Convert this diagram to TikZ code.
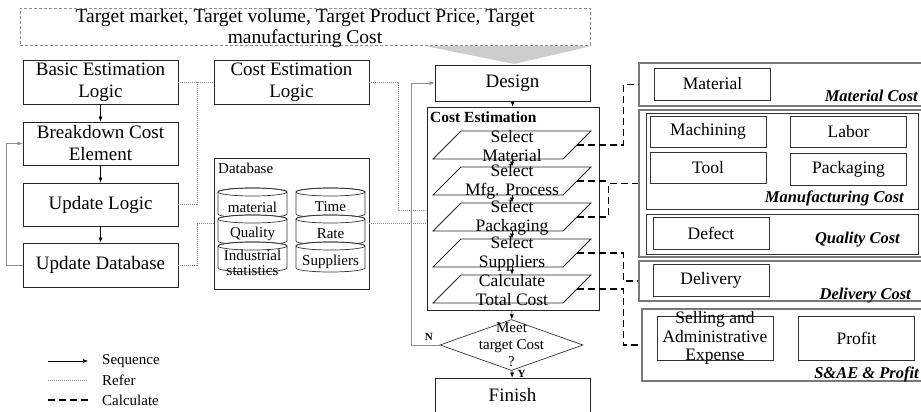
\documentclass[tikz,border=0pt]{standalone}
\usepackage{fontspec}
\setmainfont{Liberation Serif}
\usetikzlibrary{shapes.geometric, arrows.meta, positioning}
\definecolor{refer_gray}{RGB}{140,140,140}
\definecolor{frame_gray}{RGB}{120,120,120}
\definecolor{wedge_gray}{RGB}{205,205,205}

\tikzset{
    drum/.pic={
        \path[draw=black!80, fill=white, line width=0.7pt] (-34.5,-11) -- (-34.5,11)
            arc[start angle=180, end angle=0, x radius=34.5, y radius=4]
            -- (34.5,-11) arc[start angle=0, end angle=-180, x radius=34.5, y radius=4] -- cycle;
        \draw[black!80, line width=0.7pt] (0,-11) ellipse[x radius=34.5, y radius=4];
    }
}

\begin{document}
\begin{tikzpicture}[x=1pt,y=-1pt,
    box/.style={draw=black!85, line width=0.8pt, inner sep=0pt, minimum width=155, align=center, font=\fontsize{19}{22}\selectfont},
    item/.style={draw=black!80, line width=0.8pt, inner sep=0pt, minimum width=116, minimum height=32, font=\fontsize{17.5}{19}\selectfont},
    group/.style={draw=frame_gray, line width=1.1pt, inner sep=0pt},
    grouptitle/.style={anchor=east, inner sep=0pt, font=\fontsize{16.5}{18}\selectfont\bfseries\itshape},
    para/.style={rectangle, xslant=1, draw=black!85, line width=0.8pt, inner sep=0pt, minimum width=130, minimum height=28},
    paratext/.style={align=center, inner sep=0pt, font=\fontsize{17.5}{18.5}\selectfont},
    dbtext/.style={align=center, inner sep=0pt, font=\fontsize{15}{15}\selectfont},
    smalltext/.style={inner sep=0pt, font=\fontsize{15}{17}\selectfont},
    seq/.style={-{Latex[length=5pt,width=4pt]}, line width=0.6pt},
    refer/.style={draw=refer_gray, line width=0.6pt, dash pattern=on 1pt off 1pt},
    calc/.style={line width=1.2pt, dash pattern=on 7pt off 4pt},
    back/.style={-{Latex[length=5pt,width=4pt]}, draw=refer_gray, line width=0.8pt}]
    \useasboundingbox (0,0) rectangle (921,412);

    % Targets
    \node[draw=refer_gray, line width=0.7pt, dash pattern=on 3pt off 2pt, minimum width=570, minimum height=37, inner sep=0pt] (target) at (305,26.5) {};
    \node[align=center, inner sep=0pt, font=\fontsize{19.5}{21}\selectfont] (targettext) at (305,28.5) {Target market, Target volume, Target Product Price, Target\\manufacturing Cost};
    \fill[wedge_gray] (425,46) -- (592,46) -- (514,64) -- cycle;

    % Logic column
    \node[box, minimum height=44] (basic) at (100.5,82) {Basic Estimation\\Logic};
    \node[box, minimum height=43] (breakdown) at (100.5,143.5) {Breakdown Cost\\Element};
    \node[box, minimum height=43] (updlogic) at (100.5,204.5) {Update Logic};
    \node[box, minimum height=44] (upddb) at (100.5,265) {Update Database};
    \node[box, minimum height=44] (celogic) at (291.5,82) {Cost Estimation\\Logic};

    % Database
    \node[box, minimum height=131] (database) at (291.5,223.5) {};
    \node[smalltext, anchor=west] (dblabel) at (218,168) {Database};
    \pic (dbmat) at (252.5,203) {drum};
    \pic (dbqual) at (252.5,230) {drum};
    \pic (dbind) at (252.5,257) {drum};
    \pic (dbtime) at (330.5,203) {drum};
    \pic (dbrate) at (330.5,230) {drum};
    \pic (dbsup) at (330.5,257) {drum};
    \node[dbtext] (tmat) at (252.5,207) {material};
    \node[dbtext] (tqual) at (252.5,234) {Quality};
    \node[dbtext] (tind) at (252.5,263) {Industrial\\statistics};
    \node[dbtext] (ttime) at (330.5,207) {Time};
    \node[dbtext] (trate) at (330.5,234) {Rate};
    \node[dbtext] (tsup) at (330.5,262) {Suppliers};

    % Flow
    \node[box, minimum height=36] (design) at (512.5,83) {Design};
    \node[box, minimum width=172, minimum height=203] (ceframe) at (513,208.5) {};
    \node[anchor=west, inner sep=0pt, font=\fontsize{15.5}{17}\selectfont\bfseries] (cetitle) at (430,117) {Cost Estimation};
    \node[para] (selmat) at (512,145) {};
    \node[para] (selmfg) at (512,181) {};
    \node[para] (selpack) at (512,217) {};
    \node[para] (selsup) at (512,253) {};
    \node[para] (calctotal) at (512,289) {};
    \node[paratext] (tselmat) at (512,146) {Select\\Material};
    \node[paratext] (tselmfg) at (512,182) {Select\\Mfg. Process};
    \node[paratext] (tselpack) at (512,218) {Select\\Packaging};
    \node[paratext] (tselsup) at (512,254) {Select\\Suppliers};
    \node[paratext] (tcalctotal) at (512,290) {Calculate\\Total Cost};
    \node[diamond, draw=black!80, line width=0.7pt, inner sep=0pt, minimum width=143, minimum height=51] (meet) at (511.5,345) {};
    \node[smalltext, align=center] (tmeet) at (511.5,345) {Meet\\target Cost\\?};
    \node[box, minimum height=34] (finish) at (512.5,395) {Finish};

    % Cost groups
    \node[group, minimum width=284, minimum height=43] (matgroup) at (781,84.5) {};
    \node[item] (material) at (712.5,84) {Material};
    \node[grouptitle] (matcost) at (918,96) {Material Cost};
    \node[group, minimum width=284, minimum height=147] (mfggroup) at (781,183.5) {};
    \node[item, minimum width=272, minimum height=96] (mfgframe) at (782,161) {};
    \node[item, minimum height=31] (machining) at (708,131.5) {Machining};
    \node[item, minimum height=31] (labor) at (848.5,131.5) {Labor};
    \node[item, minimum height=31] (tool) at (708,167.5) {Tool};
    \node[item] (packaging) at (848.5,169) {Packaging};
    \node[grouptitle] (mfgcost) at (904,198) {Manufacturing Cost};
    \node[item, minimum width=272, minimum height=40] (qualframe) at (782,234) {};
    \node[item] (defect) at (711,233) {Defect};
    \node[grouptitle] (qualcost) at (900,240) {Quality Cost};
    \node[group, minimum width=284, minimum height=40] (delgroup) at (781,281) {};
    \node[item] (delivery) at (711,280) {Delivery};
    \node[grouptitle] (delcost) at (911,296) {Delivery Cost};
    \node[group, minimum width=281, minimum height=72] (saegroup) at (782.5,345) {};
    \node[item, minimum height=44] (sae) at (715,338) {};
    \node[paratext] (tsae) at (715,338) {Selling and\\Administrative\\Expense};
    \node[item, minimum height=44] (profit) at (856.5,338) {Profit};
    \node[grouptitle] (saecost) at (919,374) {S\&AE \& Profit};

    % Sequence
    \draw[seq] (basic) -- (breakdown);
    \draw[seq] (breakdown) -- (updlogic);
    \draw[seq] (updlogic) -- (upddb);
    \draw[back] (upddb.west) -- ++(-16,0) |- (breakdown.west);
    \draw[seq] (design) -- (ceframe);
    \draw[seq] (selmat.center |- selmat.south) -- (selmat.center |- selmfg.north);
    \draw[seq] (selmfg.center |- selmfg.south) -- (selmfg.center |- selpack.north);
    \draw[seq] (selpack.center |- selpack.south) -- (selpack.center |- selsup.north);
    \draw[seq] (selsup.center |- selsup.south) -- (selsup.center |- calctotal.north);
    \draw[seq] (ceframe) -- (meet);
    \draw[seq] (meet) -- (finish) node[pos=0.4, right=2pt, font=\fontsize{11}{11}\selectfont\bfseries] (yes) {Y};
    \draw[back] (meet.west) node[above left=1pt and 3pt, font=\fontsize{11}{11}\selectfont\bfseries] (no) {N} -- ++(-28,0) |- (design.west);

    % Refer
    \coordinate (ceref) at (427,210);
    \draw[refer] (basic) -- (celogic);
    \draw[refer] (updlogic.east) -| (197,82);
    \draw[refer] (upddb.east) -- ++(19,0) |- (database.west);
    \draw[refer] (celogic.east) -- ++(29,0) |- (ceref);
    \draw[refer] (database.east) -- (database.east -| ceframe.west);

    % Calculate
    \draw[calc] (selmat.east) -- ++(46,0) |- (matgroup.west);
    \draw[calc] (selmfg.east) -- ++(31,0);
    \draw[calc] (selpack.east) -- ++(31,0) |- (mfggroup.west);
    \draw[calc] (selsup.east) -- ++(46,0) |- (delgroup.west);
    \draw[calc] (calctotal.east) -- ++(46,0) |- (saegroup.west);

    % Legend
    \coordinate (lgseqa) at (48,361);
    \coordinate (lgseqb) at (88,361);
    \coordinate (lgrefa) at (48,380);
    \coordinate (lgrefb) at (88,380);
    \coordinate (lgcala) at (48,400);
    \coordinate (lgcalb) at (88,400);
    \draw[seq] (lgseqa) -- (lgseqb);
    \draw[refer] (lgrefa) -- (lgrefb);
    \draw[calc] (lgcala) -- (lgcalb);
    \node[smalltext, anchor=west] (lgseq) at (102,361) {Sequence};
    \node[smalltext, anchor=west] (lgref) at (102,380) {Refer};
    \node[smalltext, anchor=west] (lgcal) at (102,400) {Calculate};
\end{tikzpicture}
\end{document}
